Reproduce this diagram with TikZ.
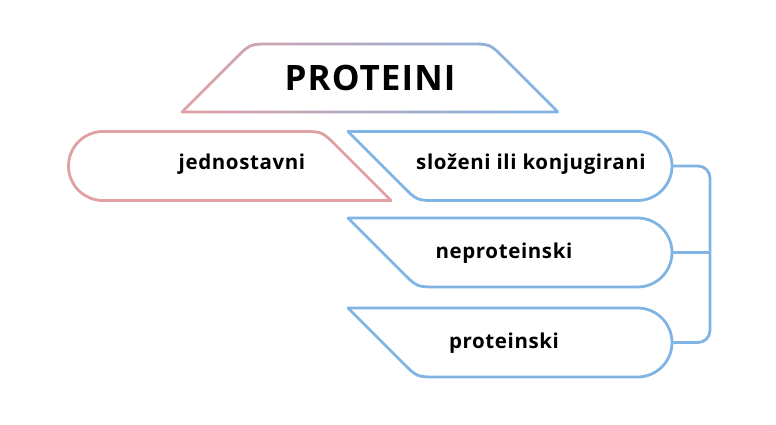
\documentclass[tikz,border=0pt]{standalone}
\usepackage{fontspec}
\setmainfont{Open Sans}[LetterSpace=3]
\definecolor{pinkC}{HTML}{E0A0A4}
\definecolor{blueC}{HTML}{80B4E4}
\tikzset{
  outline/.style={line width=2.8pt, line join=round},
  lbl/.style={font=\bfseries\fontsize{20.5}{24}\selectfont, text=black, inner sep=0pt},
  conn/.style={draw=blueC, line width=2.8pt, rounded corners=12pt},
}
\begin{document}
\begin{tikzpicture}[x=1pt,y=-1pt]
\useasboundingbox (0,0) rectangle (776,425);
% gradient-stroked trapezoid
\foreach \i in {0,...,37}{
  \pgfmathsetmacro\p{100*\i/37}
  \colorlet{stripC}{blueC!\p!pinkC}
  \begin{scope}
    \clip (178+10*\i,30) rectangle ++(10.6,95);
    \draw[outline, draw=stripC] (182,112) -- (235.9,58.1) .. controls (250,44) .. (270,44) -- (470,44) .. controls (490,44) .. (504.1,58.1) -- (558,112) -- cycle;
  \end{scope}
}
\node[font=\bfseries\fontsize{35}{40}\selectfont, inner sep=0pt] (title) at (370,78) {PROTEINI};
% jednostavni
\draw[outline, draw=pinkC] (103,200.5) arc(90:270:34.5) -- (302,131.5) .. controls (322,131.5) .. (336.1,145.6) -- (391,200.5) -- cycle;
\node[lbl] (jed) at (242,164.5) {jednostavni};
% right boxes
\foreach \T/\nm in {131.5/a, 218/b, 308/c}{
  \draw[outline, draw=blueC] (348,\T) -- (637.5,\T) arc(-90:90:34.5) -- (437,\T+69) .. controls (417,\T+69) .. (402.9,\T+54.9) -- cycle;
  \coordinate (e\nm) at (672,\T+34.5);
}
\node[lbl] (slo) at (531,164.5) {složeni ili konjugirani};
\node[lbl] (nep) at (504,253) {neproteinski};
\node[lbl] (pro) at (504,343) {proteinski};
% bracket
\coordinate (bx) at (710,0);
\draw[conn] (ea) -| (bx |- ec) -- (ec);
\draw[conn] (eb) -- (eb -| bx);
\end{tikzpicture}
\end{document}
